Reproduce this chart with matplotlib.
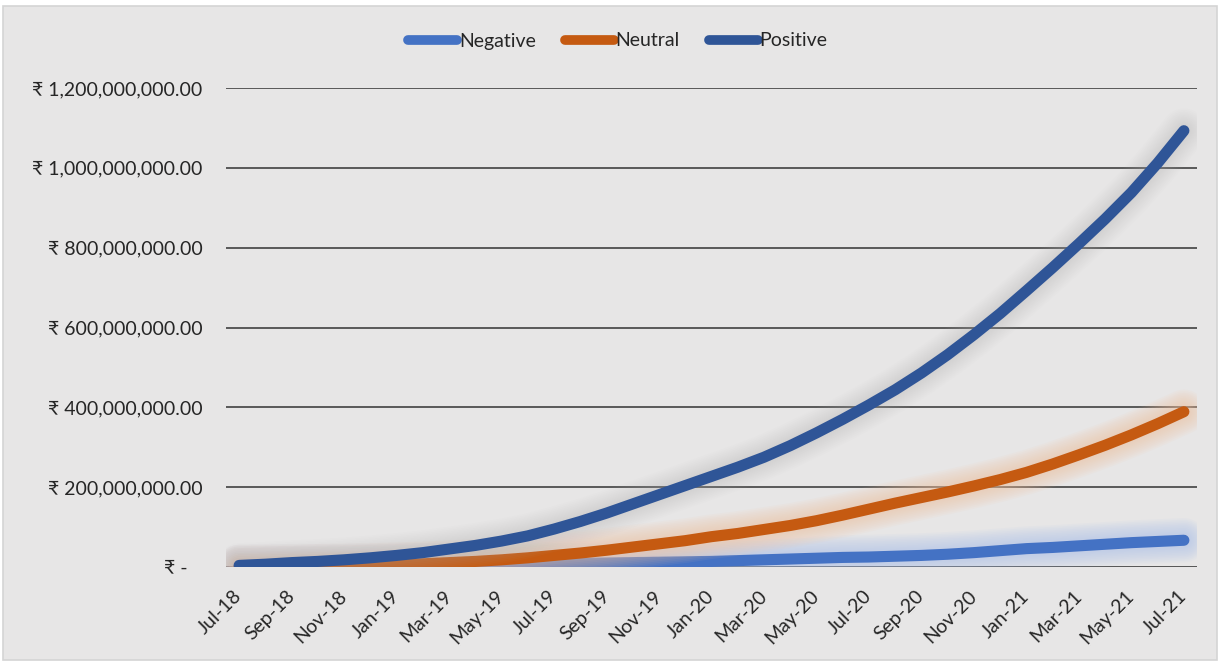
import matplotlib
matplotlib.use("Agg")
import matplotlib.pyplot as plt
import matplotlib.patheffects as pe
from matplotlib.patches import Rectangle
from matplotlib.ticker import FuncFormatter, FixedLocator

plt.rcParams['font.family'] = ['Lato', 'DejaVu Sans']

months = ["Jul-18", "Aug-18", "Sep-18", "Oct-18", "Nov-18", "Dec-18",
          "Jan-19", "Feb-19", "Mar-19", "Apr-19", "May-19", "Jun-19",
          "Jul-19", "Aug-19", "Sep-19", "Oct-19", "Nov-19", "Dec-19",
          "Jan-20", "Feb-20", "Mar-20", "Apr-20", "May-20", "Jun-20",
          "Jul-20", "Aug-20", "Sep-20", "Oct-20", "Nov-20", "Dec-20",
          "Jan-21", "Feb-21", "Mar-21", "Apr-21", "May-21", "Jun-21",
          "Jul-21"]

# cumulative amounts, in millions of rupees
negative = [0.2, 0.5, 1, 1.5, 2, 2.5, 3, 4, 4.5, 5, 6, 7,
            8, 9, 10, 11, 12, 13, 14, 16, 18, 20, 22, 24,
            25, 27, 29, 32, 36, 41, 46, 49, 53, 57, 61, 64, 67]
neutral = [0, 0.5, 1, 2, 3, 4, 6, 8, 11, 14, 18, 23,
           29, 35, 42, 50, 58, 66, 76, 84, 94, 104, 116, 130,
           145, 160, 174, 188, 203, 219, 237, 258, 281, 305, 331, 359, 389]
positive = [4, 7, 11, 14, 18, 23, 29, 36, 45, 54, 65, 78,
            95, 114, 135, 158, 181, 204, 227, 250, 275, 304, 336, 370,
            406, 444, 486, 532, 582, 635, 692, 750, 810, 872, 938, 1012, 1093]

# name, values, line colour, glow colour, glow strength
series = [("Negative", negative, "#4472C4", "#A9C0E8", 0.07),
          ("Neutral", neutral, "#C55A11", "#F6C29E", 0.07),
          ("Positive", positive, "#2F5597", "#B4B4B4", 0.035)]

W, H, DPI = 1220, 663, 100
fig = plt.figure(figsize=(W / DPI, H / DPI), dpi=DPI, facecolor="white")
fig.patches.append(Rectangle((3 / W, 3 / H), 1 - 6 / W, 1 - 9 / H,
                             transform=fig.transFigure, facecolor="#E7E6E6",
                             edgecolor="#D4D4D4", linewidth=1.2, zorder=-5))

ax = fig.add_axes([226 / W, 1 - 567 / H, (1197 - 226) / W, (567 - 88) / H])
ax.set_facecolor("none")

x = list(range(len(months)))
lw = 8.0
for name, vals, color, glow, strength in series:
    effects = [pe.Stroke(linewidth=lw + 2.4 * i, foreground=glow,
                         alpha=strength, capstyle="round")
               for i in range(10, 0, -1)]
    effects.append(pe.Normal())
    ax.plot(x, [v * 1e6 for v in vals], color=color, lw=lw, label=name,
            solid_capstyle="round", solid_joinstyle="round",
            path_effects=effects, zorder=3)

ax.set_xlim(-0.5, len(months) - 0.5)
ax.set_ylim(0, 1.2e9)
ax.set_yticks([i * 2e8 for i in range(7)])
ax.yaxis.grid(True, color="#595959", lw=1.4, zorder=1)
ax.set_axisbelow(True)


def rupee(v, pos):
    if abs(v) < 1:
        return "\u20b9 -   "
    return "\u20b9 {:,.2f}".format(v)


ax.yaxis.set_major_formatter(FuncFormatter(rupee))
ax.xaxis.set_major_locator(FixedLocator(x[::2]))
ax.set_xticklabels(months[::2], rotation=45, ha="right", va="center",
                   rotation_mode="anchor")
ax.tick_params(axis="x", length=0, pad=19, labelsize=14, colors="#262626")
ax.tick_params(axis="y", length=0, pad=17, labelsize=14, colors="#262626")
for s in ax.spines.values():
    s.set_visible(False)
ax.axhline(0, color="#595959", lw=1.4, zorder=1)

leg = fig.legend(loc="center", bbox_to_anchor=(618 / W, 1 - 41 / H), ncol=3,
                 frameon=False, fontsize=14, handlelength=2.5,
                 handletextpad=0.1, columnspacing=1.5)
for h in leg.legend_handles:
    h.set_path_effects([])
    h.set_solid_capstyle("round")
    h.set_linewidth(7)
for t in leg.get_texts():
    t.set_color("#262626")

fig.savefig("out.png", dpi=DPI, facecolor=fig.get_facecolor())
